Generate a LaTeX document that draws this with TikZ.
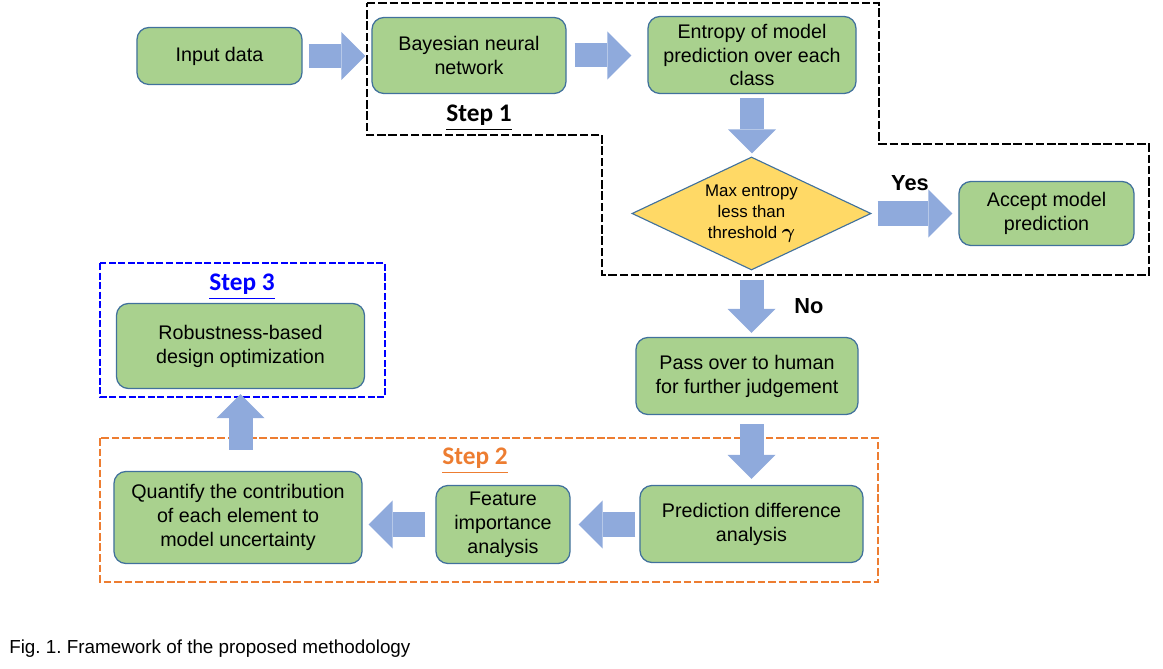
\documentclass[tikz,border=0pt]{standalone}
\usepackage{fontspec}
\setmainfont{Liberation Sans}
\newfontfamily\stepfont{Carlito}
\usepackage{amsmath}
\usepackage{amssymb}
\usepackage{color}
\usetikzlibrary{arrows.meta,shapes.geometric}
\frenchspacing

\definecolor{boxgreen}{HTML}{A9D18E}
\definecolor{boxline}{HTML}{41719C}
\definecolor{decyellow}{HTML}{FFD966}
\definecolor{fatblue}{HTML}{8FAADC}
\definecolor{steporange}{HTML}{ED7D31}
\definecolor{stepblue}{HTML}{0000FF}

\begin{document}
\begin{tikzpicture}[x=0.025cm,y=-0.025cm,
    block/.style={rectangle,rounded corners=0.3cm,draw=boxline,fill=boxgreen,line width=0.9pt,align=center,inner sep=1pt,font=\fontsize{14}{17}\selectfont},
    decision/.style={diamond,aspect=2.1,draw=boxline,fill=decyellow,line width=0.8pt,align=center,inner sep=0pt,font=\fontsize{12}{15}\selectfont},
    fat/.style={fatblue,line width=0.6cm,-{Triangle[length=0.6cm,width=1.2cm,line width=0pt]}},
    steplabel/.style={inner sep=0pt,font=\stepfont\fontsize{18}{20}\selectfont\bfseries},
    answer/.style={inner sep=0pt,font=\fontsize{15.5}{18}\selectfont\bfseries}]
  \useasboundingbox (0,0) rectangle (1163,669);
  \draw[black,line width=1.7pt,dash pattern=on 6pt off 2pt] (367,3) -- (879,3) -- (879,144) -- (1149,144) -- (1149,275) -- (602,275) -- (602,135) -- (367,135) -- cycle;
  \draw[steporange,line width=1.1pt,dash pattern=on 5.5pt off 2pt] (100,438) rectangle (878,582);
  \draw[stepblue,line width=1.4pt,dash pattern=on 5pt off 1.8pt] (100,263) rectangle (385,397);
  \node[block,minimum width=4.125cm,minimum height=1.425cm](input)at(219.5,56){Input data};
  \node[block,minimum width=4.85cm,minimum height=1.9cm](bnn)at(469,55.5){Bayesian neural\\network};
  \node[block,minimum width=5.2cm,minimum height=1.925cm](entropy)at(752,55){Entropy of model\\prediction over each\\class};
  \node[decision,minimum width=5.975cm,minimum height=2.825cm](maxent)at(751.5,213.5){Max entropy\\less than\\threshold {\fontsize{14}{15}\selectfont$\boldsymbol{\gamma}$}};
  \node[block,minimum width=4.375cm,minimum height=1.6cm](accept)at(1046.5,213.5){Accept model\\prediction};
  \node[block,minimum width=5.55cm,minimum height=1.925cm](human)at(747,376){Pass over to human\\for further judgement};
  \node[block,minimum width=5.575cm,minimum height=1.925cm](diff)at(751.5,524){Prediction difference\\analysis};
  \node[block,minimum width=3.35cm,minimum height=1.95cm](feature)at(503,524.5){Feature\\importance\\analysis};
  \node[block,minimum width=6.2cm,minimum height=2.3cm](quantify)at(238,517.5){Quantify the contribution\\of each element to\\model uncertainty};
  \node[block,minimum width=6.2cm,minimum height=2.125cm](robust)at(240.5,346){Robustness-based\\design optimization};
  \node[steplabel,black](step1)at(479,118){\underline{Step 1}};
  \node[steplabel,steporange](step2)at(475,461){\underline{Step 2}};
  \node[steplabel,stepblue](step3)at(242,287){\underline{Step 3}};
  \node[answer](yes)at(910,183){Yes};
  \node[answer](no)at(809,306){No};
  \draw[fat,shorten <=0.15cm,shorten >=0.15cm](input.east)--(input.east-|bnn.west);
  \draw[fat,shorten <=0.2cm,shorten >=0.4cm](bnn.east)--(bnn.east-|entropy.west);
  \draw[fat,shorten <=0.1cm,shorten >=0.075cm](entropy.south)--(entropy.south|-maxent.north);
  \draw[fat,shorten <=0.15cm,shorten >=0.15cm](maxent.east)--(maxent.east-|accept.west);
  \draw[fat,shorten <=0.225cm,shorten >=0.1cm](maxent.south)--(maxent.south|-human.north);
  \draw[fat,shorten <=0.225cm,shorten >=0.15cm](diff.north|-human.south)--(diff.north);
  \draw[fat,shorten <=0.1cm,shorten >=0.2cm](diff.west|-feature.east)--(feature.east);
  \draw[fat,shorten <=0.25cm,shorten >=0.15cm](feature.west)--(feature.west-|quantify.east);
  \draw[fat,shorten <=0.525cm,shorten >=0.125cm](robust.south|-quantify.north)--(robust.south);
  \node[anchor=base west,inner sep=0pt,font=\fontsize{13.4}{16}\selectfont](caption)at(9,653){Fig. 1. Framework of the proposed methodology};
\end{tikzpicture}
\end{document}
